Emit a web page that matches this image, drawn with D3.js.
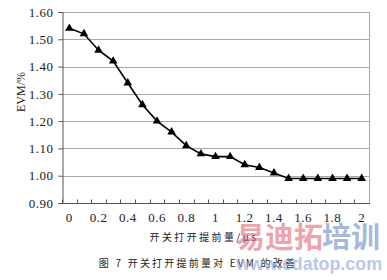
<!DOCTYPE html>
<html>
<head>
<meta charset="utf-8">
<script src="https://cdn.jsdelivr.net/npm/d3@7/dist/d3.min.js"></script>
<style>
  body { margin: 0; background: #fff; }
  svg { display: block; }
</style>
</head>
<body>
<svg id="chart" width="387" height="280"></svg>
<script>
// data
const advance = ["0", "0.1", "0.2", "0.3", "0.4", "0.5", "0.6", "0.7", "0.8", "0.9", "1",
    "1.1", "1.2", "1.3", "1.4", "1.5", "1.6", "1.7", "1.8", "1.9", "2"];
const evm = [1.54, 1.52, 1.46, 1.42, 1.34, 1.26, 1.20, 1.16, 1.11, 1.08, 1.07,
    1.07, 1.04, 1.03, 1.01, 0.99, 0.99, 0.99, 0.99, 0.99, 0.99];
const xTickLabels = ["0", "0.2", "0.4", "0.6", "0.8", "1", "1.2", "1.4", "1.6", "1.8", "2"];
const yTicks = [0.90, 1.00, 1.10, 1.20, 1.30, 1.40, 1.50, 1.60];

const svg = d3.select("#chart");
const serif = "'Liberation Serif', 'DejaVu Serif', serif";
const cjk = "'Noto Sans CJK SC', sans-serif";

const m = { left: 62, right: 369, top: 12, bottom: 203 };

const x = d3.scaleBand()
    .domain(advance)
    .range([m.left, m.right]);
const y = d3.scaleLinear()
    .domain([0.9, 1.6])
    .range([m.bottom, m.top]);

// gridlines
svg.append("g")
    .selectAll("line")
    .data(yTicks.slice(1))
    .join("line")
        .attr("x1", m.left).attr("x2", m.right)
        .attr("y1", d => Math.round(y(d)) + 0.5)
        .attr("y2", d => Math.round(y(d)) + 0.5)
        .attr("stroke", "#a8a8a8")
        .attr("stroke-width", 1);

// right frame
svg.append("line")
    .attr("x1", m.right + 0.5).attr("x2", m.right + 0.5)
    .attr("y1", m.top).attr("y2", m.bottom)
    .attr("stroke", "#a8a8a8");

// y axis
const yAxis = svg.append("g")
    .attr("transform", `translate(${m.left + 0.5},0)`)
    .call(d3.axisLeft(y).tickValues(yTicks).tickFormat(d3.format(".2f")).tickSize(4).tickPadding(5));
yAxis.select(".domain").attr("stroke", "#555");
yAxis.selectAll(".tick line").attr("stroke", "#555");
yAxis.selectAll("text")
    .style("font-family", serif)
    .style("font-size", "13px")
    .attr("fill", "#222")
    .attr("letter-spacing", "0.5px");

// x axis: ticks at band boundaries pointing up
const xAxis = svg.append("g")
    .attr("transform", `translate(0,${m.bottom + 0.5})`);
xAxis.append("line")
    .attr("x1", m.left).attr("x2", m.right + 1)
    .attr("stroke", "#555");
xAxis.selectAll("line.tk")
    .data(advance)
    .join("line")
        .attr("class", "tk")
        .attr("x1", d => Math.round(x(d)) + 0.5)
        .attr("x2", d => Math.round(x(d)) + 0.5)
        .attr("y1", 0).attr("y2", -4)
        .attr("stroke", "#555");
xAxis.selectAll("text")
    .data(xTickLabels)
    .join("text")
        .attr("x", d => x(d) + x.bandwidth() / 2)
        .attr("y", 18)
        .attr("text-anchor", "middle")
        .attr("letter-spacing", "0.5px")
        .style("font-family", serif)
        .style("font-size", "13px")
        .attr("fill", "#222")
        .text(d => d);

// series line
const cx = d => x(d) + x.bandwidth() / 2;
svg.append("path")
    .datum(advance)
    .attr("fill", "none")
    .attr("stroke", "#000")
    .attr("stroke-width", 1.6)
    .attr("d", d3.line().x(d => cx(d)).y((d, i) => y(evm[i])));

// triangle markers
svg.append("g")
    .selectAll("path")
    .data(advance)
    .join("path")
        .attr("transform", (d, i) => `translate(${cx(d)},${y(evm[i])})`)
        .attr("d", d3.symbol(d3.symbolTriangle, 32))
        .attr("fill", "#000");

// axis titles
svg.append("text")
    .attr("transform", "translate(25,92) rotate(-90)")
    .attr("text-anchor", "middle")
    .style("font-family", serif)
    .style("font-size", "12px")
    .attr("fill", "#222")
    .text("EVM/%");

svg.append("text")
    .attr("x", 204).attr("y", 241)
    .attr("text-anchor", "middle")
    .attr("letter-spacing", "2.4px")
    .style("font-family", cjk)
    .style("font-size", "10px")
    .attr("fill", "#222")
    .text("开关打开提前量/μs");

svg.append("text")
    .attr("x", 198).attr("y", 267)
    .attr("text-anchor", "middle")
    .attr("letter-spacing", "2.2px")
    .style("font-family", cjk)
    .style("font-size", "10px")
    .attr("fill", "#222")
    .text("图 7  开关打开提前量对 EVM 的改善");

// watermark
const wm = svg.append("g").style("font-family", cjk).attr("opacity", 0.6);
wm.append("text")
    .attr("x", 236).attr("y", 248)
    .style("font-size", "29px").style("font-weight", "bold")
    .attr("fill", "#e06a76")
    .text("易迪拓");
wm.append("text")
    .attr("x", 322).attr("y", 248)
    .style("font-size", "29px").style("font-weight", "bold")
    .attr("fill", "#6a8cc8")
    .text("培训");
wm.append("text")
    .attr("x", 236).attr("y", 270)
    .attr("textLength", 146)
    .attr("lengthAdjust", "spacingAndGlyphs")
    .style("font-family", "'Liberation Sans', Arial, sans-serif")
    .style("font-size", "19px").style("font-weight", "bold")
    .attr("fill", "#8aa4d6")
    .text("www.edatop.com");
</script>
</body>
</html>
